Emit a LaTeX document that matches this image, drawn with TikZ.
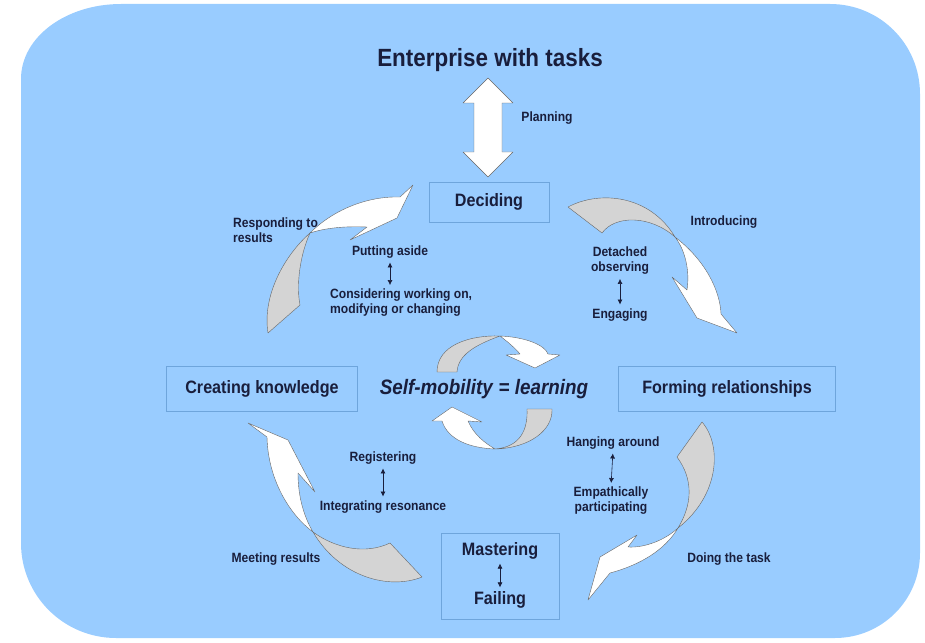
\documentclass[tikz,border=0pt]{standalone}
\usepackage{fontspec}
\setmainfont{Liberation Sans}[FakeStretch=0.9]
\usetikzlibrary{arrows.meta}
\definecolor{bgblue}{RGB}{153,204,255}
\definecolor{boxline}{RGB}{110,165,220}
\definecolor{txt}{RGB}{25,30,60}
\definecolor{backside}{RGB}{212,212,212}

\begin{document}
\begin{tikzpicture}
        [x=1bp, y=-1bp,
        lbl/.style={font=\bfseries\fontsize{13.5}{15}\selectfont, text=txt, align=center, inner sep=1pt},
        box/.style={draw=boxline, thin, font=\bfseries\fontsize{18}{21}\selectfont, text=txt, inner sep=0pt},
        big/.style={font=\bfseries\fontsize{18}{21}\selectfont, text=txt, inner sep=1pt},
        front/.style={fill=white, draw=black!60, thin, line join=round},
        back/.style={fill=backside, draw=black!60, thin, line join=round},
        swap/.style={{Latex[length=5pt,width=5pt]}-{Latex[length=5pt,width=5pt]}, semithick, txt, shorten <=3pt, shorten >=3pt}]

        \useasboundingbox (0,0) rectangle (925,643);

        % background panel
        \fill[bgblue] (21,79) .. controls (21,37) and (66,4) .. (121,4) -- (830,4)
                .. controls (880,4) and (920,44) .. (920,94) -- (920,553)
                .. controls (920,600) and (882,638) .. (835,638) -- (116,638)
                .. controls (64,638) and (21,596) .. (21,543) -- cycle;

        % main stages
        \node[font=\bfseries\fontsize{25}{28}\selectfont, text=txt] (ent) at (490,60) {Enterprise with tasks};
        \node[box, minimum width=120, minimum height=40] (dec) at (489,202) {Deciding};
        \node[box, minimum width=192, minimum height=45] (crea) at (262,389) {Creating knowledge};
        \node[box, minimum width=218, minimum height=45] (form) at (727,389) {Forming relationships};
        \node[font=\bfseries\fontsize{21}{24}\selectfont, text=txt] (self) at (484,389) {\textit{Self-mobility} = \textit{learning}};
        \node[box, minimum width=119, minimum height=86] (mast) at (500,576) {};
        \node[big] (mst) at (500,551) {Mastering};
        \node[big] (fail) at (500,600) {Failing};

        % planning arrow
        \draw[front] (488,78) -- (513,103) -- (502,103) -- (502,152) -- (513,152) -- (488,177)
                -- (463,152) -- (474,152) -- (474,103) -- (463,103) -- cycle;
        \node[lbl] (planning) at (547,118) {Planning};

        % labels
        \node[lbl, align=left, anchor=west] (resp) at (232,230) {Responding to\\results};
        \node[lbl] (put) at (390,252) {Putting aside};
        \node[lbl, align=left, anchor=west] (cons) at (329,303) {Considering working on,\\modifying or changing};
        \node[lbl] (intro) at (724,222) {Introducing};
        \node[lbl] (det) at (620,261) {Detached\\observing};
        \node[lbl] (eng) at (620,315) {Engaging};
        \node[lbl] (reg) at (383,458) {Registering};
        \node[lbl] (integ) at (383,507) {Integrating resonance};
        \node[lbl] (meet) at (276,559) {Meeting results};
        \node[lbl] (hang) at (613,443) {Hanging around};
        \node[lbl] (emp) at (611,501) {Empathically\\participating};
        \node[lbl] (doing) at (729,559) {Doing the task};

        % two way arrows
        \draw[swap] (put.south) -- (put.south |- cons.north);
        \draw[swap] (det.south) -- (eng.north);
        \draw[swap] (reg.south) -- (integ.north);
        \draw[swap] (hang.south) -- (emp.north);
        \draw[swap] (mst.south) -- (fail.north);

        % responding to results
        \draw[back] (310,233) .. controls (285,255) and (262,295) .. (268,333) -- (300,305)
                .. controls (296,285) and (300,255) .. (310,233) -- cycle;
        \draw[front] (310,233) .. controls (335,208) and (370,196) .. (400,197) -- (413,185) -- (397,218)
                -- (350,240) -- (367,227) .. controls (345,226) and (325,228) .. (310,233) -- cycle;

        % introducing
        \draw[back] (568,207) .. controls (600,190) and (650,195) .. (675,237)
                .. controls (650,215) and (615,215) .. (602,233) -- cycle;
        \draw[front] (675,237) .. controls (705,260) and (720,290) .. (721,314) -- (737,333) -- (697,318)
                -- (672,277) -- (687,290) .. controls (690,270) and (685,250) .. (675,237) -- cycle;

        % doing the task
        \draw[back] (702,422) .. controls (722,445) and (720,495) .. (678,528)
                .. controls (692,505) and (694,480) .. (677,457) -- cycle;
        \draw[front] (678,528) .. controls (665,540) and (645,548) .. (628,547) -- (637,535) -- (600,557)
                -- (588,600) -- (610,573) .. controls (640,565) and (665,550) .. (678,528) -- cycle;

        % meeting results
        \draw[front] (313,532) .. controls (290,515) and (268,480) .. (267,437) -- (248,423) -- (288,440)
                -- (315,492) -- (298,473) .. controls (298,495) and (303,515) .. (313,532) -- cycle;
        \draw[back] (313,532) .. controls (335,548) and (365,555) .. (390,543) -- (422,577)
                .. controls (390,590) and (340,578) .. (313,532) -- cycle;

        % self-mobility loop
        \draw[back] (437,372) .. controls (437,345) and (470,335) .. (500,336)
                .. controls (475,345) and (458,355) .. (457,372) -- cycle;
        \draw[front] (500,336) .. controls (525,337) and (545,345) .. (548,354) -- (560,355) -- (535,368)
                -- (506,355) -- (520,354) .. controls (515,348) and (508,342) .. (500,336) -- cycle;
        \draw[back] (495,449) .. controls (520,447) and (528,430) .. (527,409) -- (552,409)
                .. controls (553,430) and (530,448) .. (495,449) -- cycle;
        \draw[front] (495,449) .. controls (470,448) and (448,440) .. (442,421) -- (432,421) -- (452,407)
                -- (482,422) -- (468,421) .. controls (474,435) and (485,443) .. (495,449) -- cycle;

\end{tikzpicture}
\end{document}
